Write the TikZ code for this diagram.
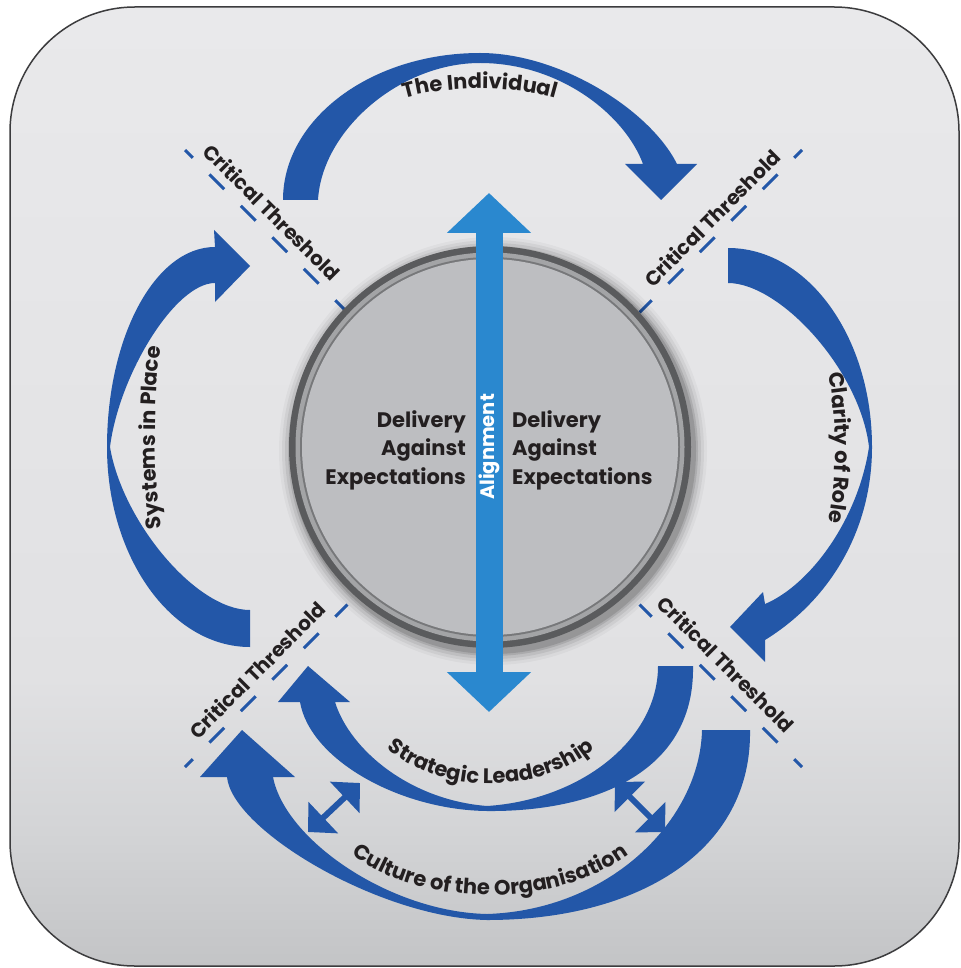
\documentclass[tikz,border=0pt]{standalone}
\usepackage{fontspec}
\setmainfont{Poppins}
\usetikzlibrary{arrows.meta,decorations.text}

\definecolor{arrblue}{HTML}{2357A8}
\definecolor{alblue}{HTML}{2A88CF}
\definecolor{txt}{HTML}{231F20}
\definecolor{ringdark}{HTML}{5A5B5D}
\definecolor{ringlight}{HTML}{A3A4A6}
\definecolor{ringline}{HTML}{77787A}
\definecolor{disc}{HTML}{BDBEC1}
\definecolor{bgtop}{HTML}{E9E9EB}
\definecolor{bgmidA}{HTML}{E1E1E3}
\definecolor{bgmidB}{HTML}{D3D4D6}
\definecolor{bgbot}{HTML}{C3C4C6}
\definecolor{frame}{HTML}{3C3C3E}

% the path's box maps to 25bp..75bp of this shading
\pgfdeclareverticalshading{bgshade}{100bp}{color(0bp)=(bgbot); color(25bp)=(bgbot); color(32bp)=(bgmidB); color(40bp)=(bgmidA); color(75bp)=(bgtop); color(100bp)=(bgtop)}

\newcommand\critfont{\fontsize{20}{24}\selectfont\bfseries}
\newcommand\delivfont{\fontsize{21}{28.5}\selectfont\bfseries}
\newcommand\curvefont{\fontsize{21}{24}\selectfont\bfseries}
\newcommand\alfont{\fontsize{19.5}{22}\selectfont\bfseries}

\tikzset{
  crescent/.style={fill=arrblue},
  thrline/.style={draw=arrblue, line width=3pt, dash pattern=on 21pt off 23.5pt, dash phase=10pt},
  crit/.style={text=txt, font=\critfont, inner sep=0pt},
  deliv/.style={text=txt, font=\delivfont, inner sep=0pt},
  dbl/.style={draw=arrblue, line width=6pt, {Triangle[length=21pt,width=42pt]}-{Triangle[length=21pt,width=42pt]}},
  curvetext/.style={decorate, decoration={text along path, text align=center, text color=txt, text={|\curvefont|#1}}}
}

\begin{document}
\begin{tikzpicture}[x=1pt,y=-1pt]
\useasboundingbox (0,0) rectangle (960,968);
\fill[white] (0,0) rectangle (960,968);
% background panel
\shade[shading=bgshade, rounded corners=125pt] (10,7) rectangle (959,966);
\draw[frame, line width=1.5pt, rounded corners=125pt] (10,7) rectangle (959,966);

% named points
\coordinate (C) at (490,447);
\coordinate (X) at (493.5,458.5);

% threshold lines
\draw[thrline] (185,150) -- (347.5,312.5);
\draw[thrline] (802,150) -- (639.5,312.5);
\draw[thrline] (185,767) -- (347.5,604.5);
\draw[thrline] (802,767) -- (639.5,604.5);

% central disc with shadow
\foreach \r/\op in {214/0.03,211/0.05,208/0.07,205/0.1,203/0.12}
  \fill[black, opacity=\op] (493,451) circle[radius=\r];
\fill[ringdark] (C) circle[radius=201];
\fill[ringlight] (C) circle[radius=194.5];
\fill[ringline] (C) circle[radius=190];
\fill[disc] (C) circle[radius=188];

% alignment double arrow
\coordinate (alT) at (489,193);
\coordinate (alB) at (489,712);
\draw[alblue, line width=27pt, {Triangle[length=40pt,width=82pt]}-{Triangle[length=40pt,width=82pt]}] (alT) -- (alB);
\node[rotate=90, text=white, font=\alfont, inner sep=0pt] (al) at (489,447) {Alignment};

\node[deliv, align=right, anchor=east] (dl) at (466,450) {Delivery\\Against\\Expectations};
\node[deliv, align=left, anchor=west] (dr) at (512,450) {Delivery\\Against\\Expectations};

% top arrow: The Individual
\fill[crescent] (283,200) .. controls (283,119) and (371,53) .. (480,53)
  .. controls (560,53) and (650,110) .. (677,164)
  -- (697,164) -- (661,200) -- (625,164) -- (643,164)
  .. controls (625,115) and (560,63) .. (480,63)
  .. controls (400,63) and (322,130) .. (318,200) -- cycle;

% left arrow: Systems in Place
\fill[crescent] (250,647) .. controls (171,647) and (107,557) .. (107,447)
  .. controls (107,337) and (155,247) .. (215,247)
  -- (214,230) -- (250,266) -- (215,302) -- (215,283)
  .. controls (175,283) and (119,375) .. (110,447)
  .. controls (122,520) and (195,610) .. (250,610) -- cycle;

% right arrow: Clarity of Role
\fill[crescent] (728,248) .. controls (808,248) and (872,337) .. (872,447)
  .. controls (872,530) and (830,600) .. (765,640)
  -- (765,662) -- (730,627) -- (763,592) -- (765,604)
  .. controls (810,585) and (858,520) .. (869,447)
  .. controls (860,370) and (780,283) .. (728,283) -- cycle;

% bottom inner arrow: Strategic Leadership
\fill[crescent] (693,666) .. controls (695,775) and (590,812) .. (487,811)
  .. controls (400,810) and (310,760) .. (300,702)
  -- (278,702) -- (308,666) -- (350,702) -- (335,702)
  .. controls (350,750) and (410,800) .. (487,806)
  .. controls (580,800) and (658,740) .. (658,666) -- cycle;

% bottom outer arrow: Culture of the Organisation
\fill[crescent] (750,730) .. controls (752,850) and (640,920) .. (487,920)
  .. controls (380,918) and (232,830) .. (227,777)
  -- (200,777) -- (242,730) -- (295,777) -- (273,777)
  .. controls (285,840) and (390,912) .. (487,914)
  .. controls (610,910) and (700,820) .. (702,730) -- cycle;

% small double arrows
\coordinate (dlA) at (308,832);
\coordinate (dlB) at (360,783);
\coordinate (drA) at (615,782);
\coordinate (drB) at (665,832);
\draw[dbl] (dlA) -- (dlB);
\draw[dbl] (drA) -- (drB);

% critical threshold labels
\node[crit, rotate=-45] (ctl) at (272,212) {Critical Threshold};
\node[crit, rotate=45] (ctr) at (712,218) {Critical Threshold};
\node[crit, rotate=45] (cbl) at (257,670) {Critical Threshold};
\node[crit, rotate=-45] (cbr) at (726,664) {Critical Threshold};

% curved labels
\path[curvetext={The Individual}] (370,114) .. controls (415,80) and (545,80) .. (590,114);
\path[curvetext={Systems in Place}] (163,540) .. controls (153,480) and (153,400) .. (162,335);
\path[curvetext={Clarity of Role}] (826,360) .. controls (838,415) and (838,480) .. (826,535);
\path[curvetext={Strategic Leadership}] (368,728) .. controls (420,802) and (560,802) .. (614,728);
\path[curvetext={Culture of the Organisation}] (330,835) .. controls (400,915) and (580,915) .. (650,835);
\end{tikzpicture}
\end{document}
